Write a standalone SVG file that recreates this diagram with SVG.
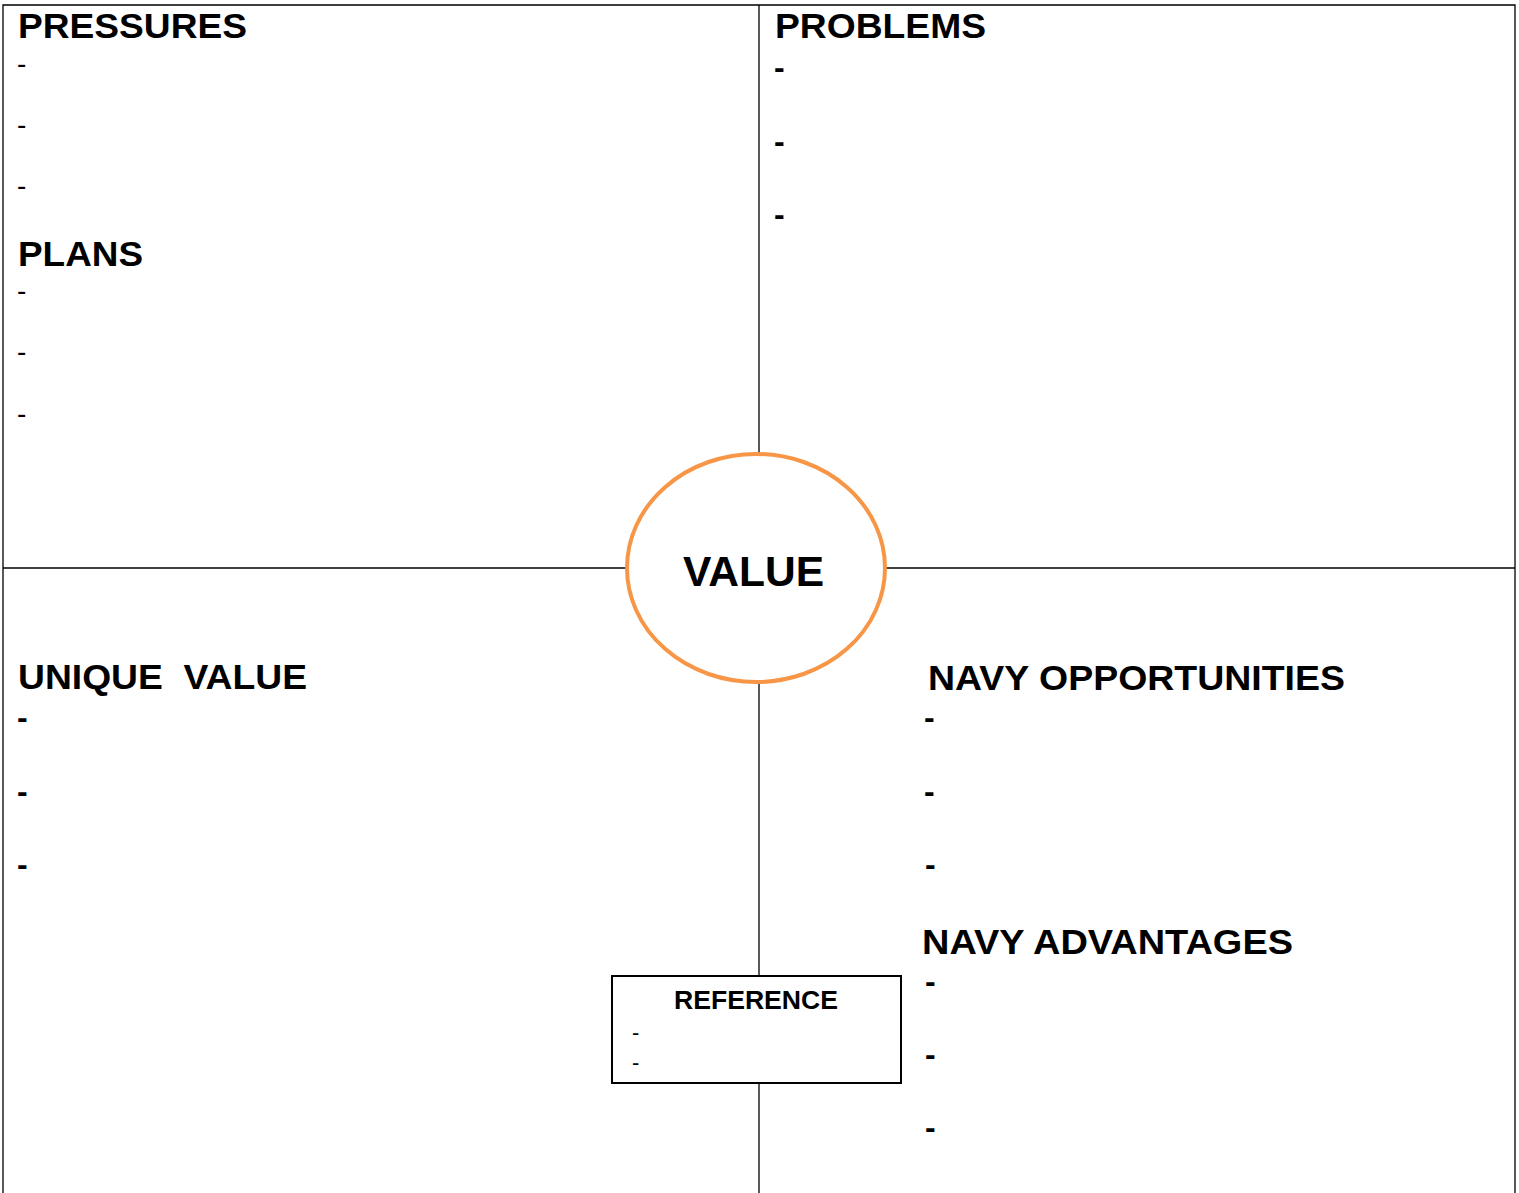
<svg xmlns="http://www.w3.org/2000/svg" width="1519" height="1193" viewBox="0 0 1519 1193">
<style>
.line{stroke:#000;stroke-width:1.3;fill:none}
.h{font-family:"Liberation Sans",Arial,sans-serif;font-weight:bold;font-size:35px;fill:#000;white-space:pre}
.d{font-family:"Liberation Sans",Arial,sans-serif;font-size:28px;fill:#000}
.db{font-family:"Liberation Sans",Arial,sans-serif;font-weight:bold;font-size:32px;fill:#000}
.ds{font-family:"Liberation Sans",Arial,sans-serif;font-size:22px;fill:#000}
</style>
<rect width="1519" height="1193" fill="#fff"/>
<g id="connectors">
<path class="line" d="M3,1193 V5 H1515 V1193"/>
<line class="line" x1="759" y1="5" x2="759" y2="1193"/>
<line class="line" x1="3" y1="568" x2="1515" y2="568"/>
</g>
<g id="pressures">
<text class="h" x="18" y="38" textLength="229" lengthAdjust="spacingAndGlyphs">PRESSURES</text>
<text class="d" x="17" y="73">-</text>
<text class="d" x="17" y="134">-</text>
<text class="d" x="17" y="195">-</text>
</g>
<g id="plans">
<text class="h" x="18" y="266" textLength="125" lengthAdjust="spacingAndGlyphs">PLANS</text>
<text class="d" x="17" y="300">-</text>
<text class="d" x="17" y="361">-</text>
<text class="d" x="17" y="423">-</text>
</g>
<g id="problems">
<text class="h" x="775" y="38" textLength="211" lengthAdjust="spacingAndGlyphs">PROBLEMS</text>
<text class="db" x="774" y="78">-</text>
<text class="db" x="774" y="152">-</text>
<text class="db" x="774" y="225">-</text>
</g>
<g id="unique-value">
<text class="h" x="18" y="689" textLength="289" lengthAdjust="spacingAndGlyphs" xml:space="preserve">UNIQUE  VALUE</text>
<text class="db" x="17" y="728">-</text>
<text class="db" x="17" y="802">-</text>
<text class="db" x="17" y="875">-</text>
</g>
<g id="navy-opportunities">
<text class="h" x="928" y="690" textLength="417" lengthAdjust="spacingAndGlyphs">NAVY OPPORTUNITIES</text>
<text class="db" x="924" y="728">-</text>
<text class="db" x="924" y="802">-</text>
<text class="db" x="925" y="875">-</text>
</g>
<g id="navy-advantages">
<text class="h" x="922" y="954" textLength="371" lengthAdjust="spacingAndGlyphs">NAVY ADVANTAGES</text>
<text class="db" x="925" y="992">-</text>
<text class="db" x="925" y="1065">-</text>
<text class="db" x="925" y="1138">-</text>
</g>
<g id="value">
<ellipse cx="756" cy="568" rx="129" ry="114" fill="#fff" stroke="#F79646" stroke-width="4"/>
<text class="h" x="683" y="586" style="font-size:43px" textLength="141" lengthAdjust="spacingAndGlyphs">VALUE</text>
</g>
<g id="reference">
<rect x="612" y="976" width="289" height="107" fill="#fff" stroke="#000" stroke-width="2"/>
<text class="h" x="674" y="1009" style="font-size:25px" textLength="164" lengthAdjust="spacingAndGlyphs">REFERENCE</text>
<text class="ds" x="632" y="1040">-</text>
<text class="ds" x="632" y="1070">-</text>
</g>
</svg>
